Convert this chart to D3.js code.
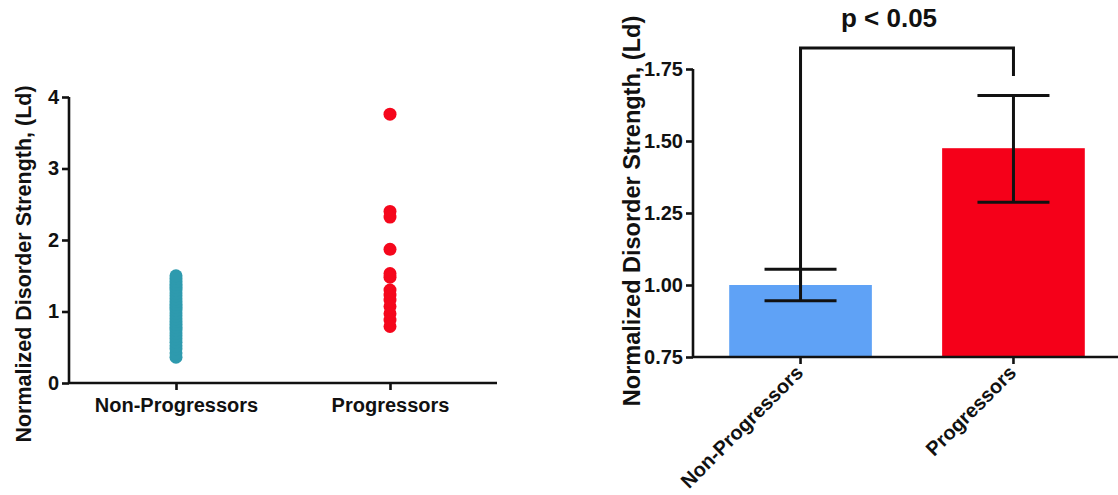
<!DOCTYPE html>
<html><head><meta charset="utf-8">
<script src="https://cdn.jsdelivr.net/npm/d3@7"></script>
<style>
body{margin:0;background:#fff;}
text{font-family:"Liberation Sans",Arial,sans-serif;font-weight:bold;fill:#111;}
</style></head>
<body>
<svg id="c" width="1118" height="495"></svg>
<script>
const categories = ["Non-Progressors", "Progressors"];
const nonProgressorValues = [0.36,0.42,0.48,0.52,0.57,0.62,0.66,0.70,0.74,0.78,0.82,0.86,0.90,0.94,0.98,1.02,1.06,1.10,1.14,1.18,1.22,1.26,1.30,1.34,1.38,1.42,1.46,1.50];
const progressorValues = [3.76,2.40,2.32,1.87,1.53,1.48,1.30,1.23,1.16,1.07,0.97,0.88,0.79];
const scatterTicks = [0,1,2,3,4];
const barMeans = [1.00, 1.475];
const barErrLow = [0.945, 1.287];
const barErrHigh = [1.055, 1.658];
const barTicks = [0.75,1.00,1.25,1.50,1.75];
const pointColors = ["#2E9AAE", "#F5071C"];
const barColors = ["#5FA2F6", "#F50019"];
const yLabel = "Normalized Disorder Strength, (Ld)";
const pText = "p < 0.05";

const svg = d3.select("#c");

// ---------- Left scatter ----------
const xL = d3.scalePoint().domain(categories).range([69, 497]).padding(0.5);
const yL = d3.scaleLinear().domain([0, 4]).range([383, 97]);

const gL = svg.append("g");
const yAxisL = gL.append("g").attr("transform", "translate(69,0)")
  .call(d3.axisLeft(yL).tickValues(scatterTicks).tickSize(7).tickPadding(3).tickFormat(d3.format("d")));
const xAxisL = gL.append("g").attr("transform", "translate(0,383)")
  .call(d3.axisBottom(xL).tickSize(7).tickPadding(5));
[yAxisL, xAxisL].forEach(a => {
  a.select(".domain").attr("stroke", "#111").attr("stroke-width", 2.6);
  a.selectAll(".tick line").attr("stroke", "#111").attr("stroke-width", 2.6);
  a.selectAll("text").style("font-size", "20px").attr("fill", "#111");
});
yAxisL.select(".domain").attr("d", "M0,97V383");
xAxisL.select(".domain").attr("d", "M69,0H497");
xAxisL.selectAll("text").attr("dy", "0.85em");

const series = [nonProgressorValues, progressorValues];
series.forEach((vals, i) => {
  gL.append("g").selectAll("circle").data(vals).join("circle")
    .attr("cx", xL(categories[i]))
    .attr("cy", d => yL(d))
    .attr("r", 6.5)
    .attr("fill", pointColors[i]);
});

gL.append("text")
  .attr("transform", "translate(24,264) rotate(-90)")
  .attr("text-anchor", "middle").attr("dominant-baseline", "central")
  .style("font-size", "21.5px").text(yLabel);

// ---------- Right bar chart ----------
const xR = d3.scaleBand().domain(categories).range([693, 1121]).paddingInner(0.33).paddingOuter(0.17);
const yR = d3.scaleLinear().domain([0.75, 1.75]).range([357, 69]);
const gR = svg.append("g");

gR.selectAll("rect").data(categories).join("rect")
  .attr("x", d => xR(d))
  .attr("width", xR.bandwidth())
  .attr("y", (d, i) => yR(barMeans[i]))
  .attr("height", (d, i) => yR(0.75) - yR(barMeans[i]))
  .attr("fill", (d, i) => barColors[i]);

const capW = 72;
categories.forEach((c, i) => {
  const cx = xR(c) + xR.bandwidth() / 2;
  gR.append("line").attr("x1", cx).attr("x2", cx).attr("y1", yR(barErrLow[i])).attr("y2", yR(barErrHigh[i]))
    .attr("stroke", "#111").attr("stroke-width", 3);
  [barErrLow[i], barErrHigh[i]].forEach(v => {
    gR.append("line").attr("x1", cx - capW / 2).attr("x2", cx + capW / 2).attr("y1", yR(v)).attr("y2", yR(v))
      .attr("stroke", "#111").attr("stroke-width", 3);
  });
});

const yAxisR = gR.append("g").attr("transform", "translate(693,0)")
  .call(d3.axisLeft(yR).tickValues(barTicks).tickSize(7).tickPadding(3).tickFormat(d3.format(".2f")));
const xAxisR = gR.append("g").attr("transform", "translate(0,357)")
  .call(d3.axisBottom(xR).tickSize(7).tickPadding(4));
[yAxisR, xAxisR].forEach(a => {
  a.select(".domain").attr("stroke", "#111").attr("stroke-width", 2.6);
  a.selectAll(".tick line").attr("stroke", "#111").attr("stroke-width", 2.6);
  a.selectAll("text").style("font-size", "20px").attr("fill", "#111");
});
yAxisR.select(".domain").attr("d", "M0,69V357");
xAxisR.select(".domain").attr("d", "M693,0H1118");
xAxisR.selectAll("text")
  .attr("text-anchor", "end")
  .attr("dy", "0.35em")
  .attr("transform", "translate(-1,12) rotate(-45)")
  .attr("x", 0).attr("y", 0);

// significance bracket
const c0 = xR(categories[0]) + xR.bandwidth() / 2;
const c1 = xR(categories[1]) + xR.bandwidth() / 2;
const bracketTop = 48;
gR.append("path")
  .attr("d", `M${c0},${yR(barErrHigh[0]) + 19}V${bracketTop}H${c1}V76`)
  .attr("fill", "none").attr("stroke", "#111").attr("stroke-width", 3);
gR.append("text").attr("x", (c0 + c1) / 2 - 18).attr("y", 27)
  .attr("text-anchor", "middle").style("font-size", "26px").text(pText);

gR.append("text")
  .attr("transform", "translate(632,211) rotate(-90)")
  .attr("text-anchor", "middle").attr("dominant-baseline", "central")
  .style("font-size", "23.5px").text(yLabel);
</script>
</body></html>
